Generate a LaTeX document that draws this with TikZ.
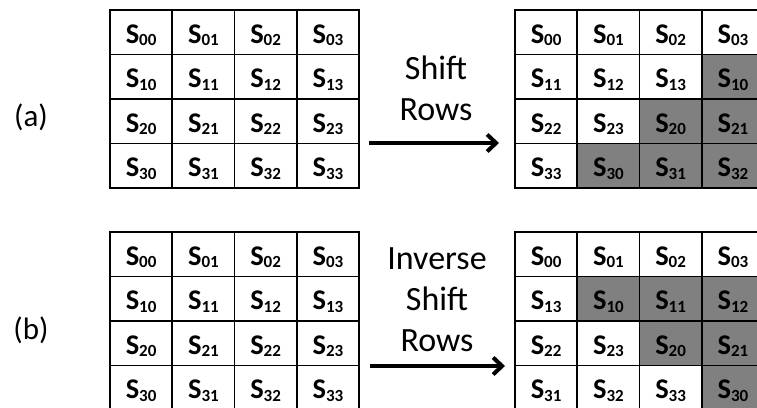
\documentclass[tikz,border=0pt]{standalone}
\usepackage{fontspec}
\setmainfont{Carlito}
\usepackage{tikz}
\usetikzlibrary{arrows.meta}

% state entry S_{rc}
\newcommand{\Sij}[1]{S\raisebox{-2.5pt}{\fontsize{17}{18}\selectfont #1}}

\begin{document}
\begin{tikzpicture}[x=1pt, y=-1pt,
    cell/.style={rectangle, draw, line width=1.6pt, minimum width=62.25pt, minimum height=44.5pt,
      inner sep=0pt, text height=24pt, text depth=2pt, font=\fontsize{28.5}{30}\selectfont\bfseries},
    moved/.style={cell, fill=gray},
    label/.style={font=\fontsize{34}{41}\selectfont, align=center, inner sep=0pt},
    shiftarrow/.style={line width=4pt, -{Straight Barb[length=9pt, width=17pt]}}]
  \useasboundingbox (0,0) rectangle (757,407);

  % (a) state before ShiftRows
  \node[cell] (aL00) at (141.1,32.25) {\Sij{00}};
  \node[cell] (aL01) at (203.4,32.25) {\Sij{01}};
  \node[cell] (aL02) at (265.6,32.25) {\Sij{02}};
  \node[cell] (aL03) at (327.9,32.25) {\Sij{03}};
  \node[cell] (aL10) at (141.1,76.75) {\Sij{10}};
  \node[cell] (aL11) at (203.4,76.75) {\Sij{11}};
  \node[cell] (aL12) at (265.6,76.75) {\Sij{12}};
  \node[cell] (aL13) at (327.9,76.75) {\Sij{13}};
  \node[cell] (aL20) at (141.1,121.25) {\Sij{20}};
  \node[cell] (aL21) at (203.4,121.25) {\Sij{21}};
  \node[cell] (aL22) at (265.6,121.25) {\Sij{22}};
  \node[cell] (aL23) at (327.9,121.25) {\Sij{23}};
  \node[cell] (aL30) at (141.1,165.75) {\Sij{30}};
  \node[cell] (aL31) at (203.4,165.75) {\Sij{31}};
  \node[cell] (aL32) at (265.6,165.75) {\Sij{32}};
  \node[cell] (aL33) at (327.9,165.75) {\Sij{33}};

  % (a) state after ShiftRows
  \node[cell] (aR00) at (546.1,32.25) {\Sij{00}};
  \node[cell] (aR01) at (608.4,32.25) {\Sij{01}};
  \node[cell] (aR02) at (670.6,32.25) {\Sij{02}};
  \node[cell] (aR03) at (732.9,32.25) {\Sij{03}};
  \node[cell] (aR10) at (546.1,76.75) {\Sij{11}};
  \node[cell] (aR11) at (608.4,76.75) {\Sij{12}};
  \node[cell] (aR12) at (670.6,76.75) {\Sij{13}};
  \node[moved] (aR13) at (732.9,76.75) {\Sij{10}};
  \node[cell] (aR20) at (546.1,121.25) {\Sij{22}};
  \node[cell] (aR21) at (608.4,121.25) {\Sij{23}};
  \node[moved] (aR22) at (670.6,121.25) {\Sij{20}};
  \node[moved] (aR23) at (732.9,121.25) {\Sij{21}};
  \node[cell] (aR30) at (546.1,165.75) {\Sij{33}};
  \node[moved] (aR31) at (608.4,165.75) {\Sij{30}};
  \node[moved] (aR32) at (670.6,165.75) {\Sij{31}};
  \node[moved] (aR33) at (732.9,165.75) {\Sij{32}};

  % (b) state before InvShiftRows
  \node[cell] (bL00) at (141.1,254.25) {\Sij{00}};
  \node[cell] (bL01) at (203.4,254.25) {\Sij{01}};
  \node[cell] (bL02) at (265.6,254.25) {\Sij{02}};
  \node[cell] (bL03) at (327.9,254.25) {\Sij{03}};
  \node[cell] (bL10) at (141.1,298.75) {\Sij{10}};
  \node[cell] (bL11) at (203.4,298.75) {\Sij{11}};
  \node[cell] (bL12) at (265.6,298.75) {\Sij{12}};
  \node[cell] (bL13) at (327.9,298.75) {\Sij{13}};
  \node[cell] (bL20) at (141.1,343.25) {\Sij{20}};
  \node[cell] (bL21) at (203.4,343.25) {\Sij{21}};
  \node[cell] (bL22) at (265.6,343.25) {\Sij{22}};
  \node[cell] (bL23) at (327.9,343.25) {\Sij{23}};
  \node[cell] (bL30) at (141.1,387.75) {\Sij{30}};
  \node[cell] (bL31) at (203.4,387.75) {\Sij{31}};
  \node[cell] (bL32) at (265.6,387.75) {\Sij{32}};
  \node[cell] (bL33) at (327.9,387.75) {\Sij{33}};

  % (b) state after InvShiftRows
  \node[cell] (bR00) at (546.1,254.25) {\Sij{00}};
  \node[cell] (bR01) at (608.4,254.25) {\Sij{01}};
  \node[cell] (bR02) at (670.6,254.25) {\Sij{02}};
  \node[cell] (bR03) at (732.9,254.25) {\Sij{03}};
  \node[cell] (bR10) at (546.1,298.75) {\Sij{13}};
  \node[moved] (bR11) at (608.4,298.75) {\Sij{10}};
  \node[moved] (bR12) at (670.6,298.75) {\Sij{11}};
  \node[moved] (bR13) at (732.9,298.75) {\Sij{12}};
  \node[cell] (bR20) at (546.1,343.25) {\Sij{22}};
  \node[cell] (bR21) at (608.4,343.25) {\Sij{23}};
  \node[moved] (bR22) at (670.6,343.25) {\Sij{20}};
  \node[moved] (bR23) at (732.9,343.25) {\Sij{21}};
  \node[cell] (bR30) at (546.1,387.75) {\Sij{31}};
  \node[cell] (bR31) at (608.4,387.75) {\Sij{32}};
  \node[cell] (bR32) at (670.6,387.75) {\Sij{33}};
  \node[moved] (bR33) at (732.9,387.75) {\Sij{30}};

  % row labels
  \node[font=\fontsize{31}{36}\selectfont, anchor=base] (tagA) at (31,126) {(a)};
  \node[font=\fontsize{31}{36}\selectfont, anchor=base] (tagB) at (31,339) {(b)};

  % operations
  \node[label, anchor=south] (opA) at (436,121) {Shift\\Rows};
  \node[label, anchor=south] (opB) at (437,352) {Inverse\\Shift\\Rows};

  \coordinate (arrA-start) at (369,143);
  \coordinate (arrA-end) at (499,143);
  \coordinate (arrB-start) at (370,366);
  \coordinate (arrB-end) at (505,366);
  \draw[shiftarrow] (arrA-start) -- (arrA-end);
  \draw[shiftarrow] (arrB-start) -- (arrB-end);
\end{tikzpicture}
\end{document}
